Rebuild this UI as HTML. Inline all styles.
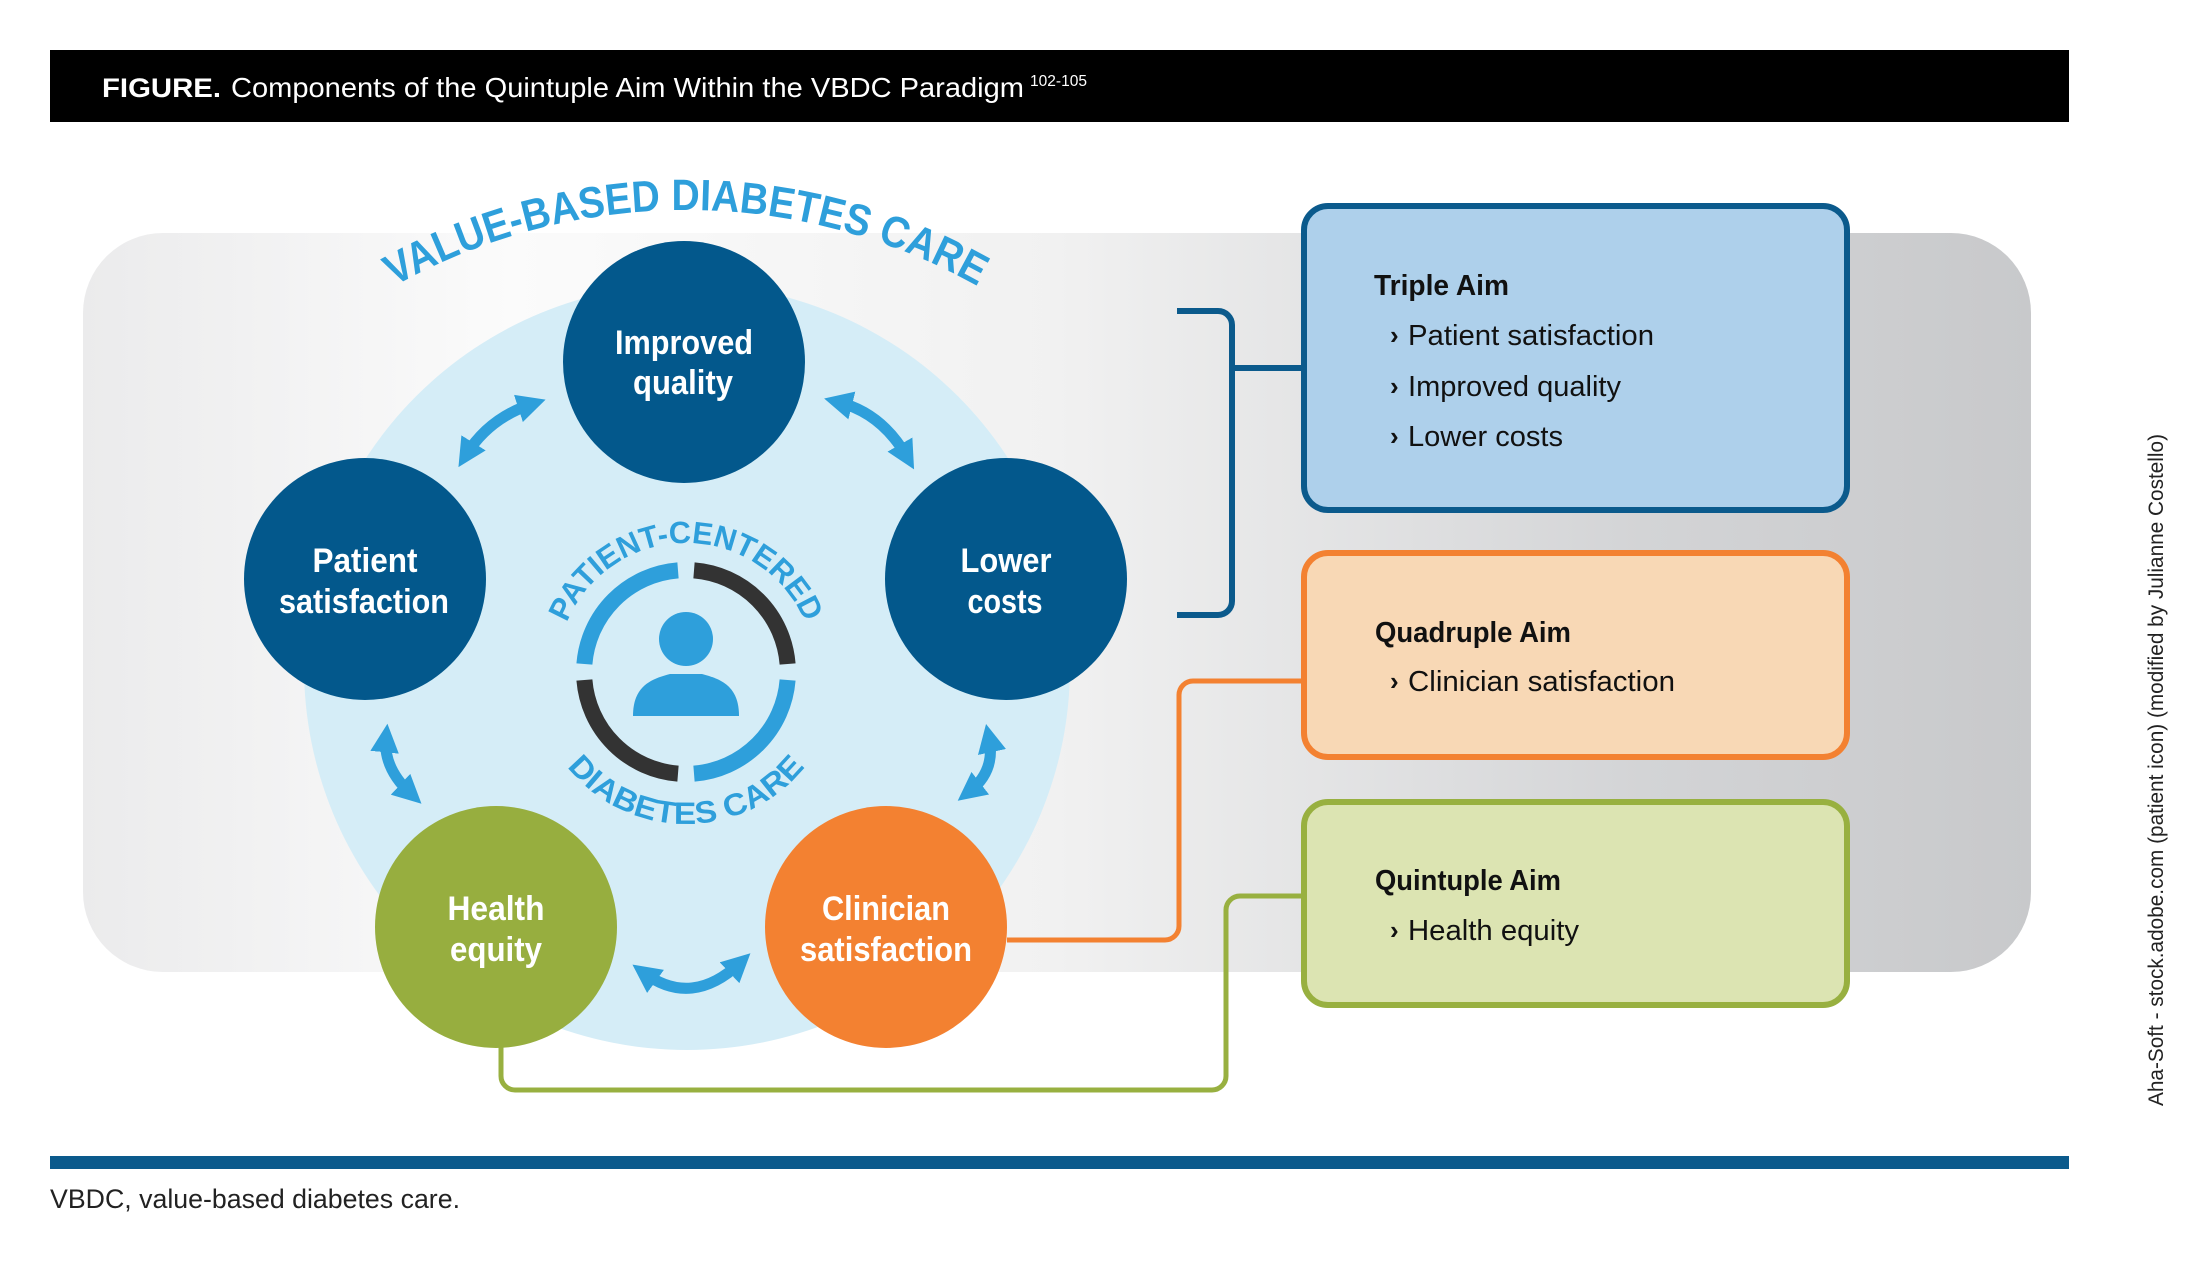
<!DOCTYPE html>
<html><head><meta charset="utf-8"><style>html,body{margin:0;padding:0;background:#fff}svg{display:block}text{font-family:"Liberation Sans",sans-serif}</style></head><body>
<svg width="2193" height="1277" viewBox="0 0 2193 1277" xmlns="http://www.w3.org/2000/svg">
<defs>
<linearGradient id="pg" x1="0" x2="1" y1="0" y2="0">
<stop offset="0" stop-color="#ebebec"/><stop offset="0.22" stop-color="#fbfbfb"/><stop offset="0.5" stop-color="#f1f1f1"/><stop offset="0.8" stop-color="#d3d4d6"/><stop offset="1" stop-color="#c8c9cb"/>
</linearGradient>
<marker id="ah" viewBox="0 0 10 10" refX="5" refY="5" markerWidth="2.6" markerHeight="2.6" orient="auto-start-reverse"><path d="M0,0 L10,5 L0,10 z" fill="#2e9fdb"/></marker>
</defs>
<rect x="50" y="50" width="2019" height="72" fill="#000"/>
<text x="102" y="97" font-size="27" font-weight="bold" fill="#fff" textLength="119" lengthAdjust="spacingAndGlyphs">FIGURE.</text>
<text x="231" y="97" font-size="28" fill="#fff" textLength="793" lengthAdjust="spacingAndGlyphs">Components of the Quintuple Aim Within the VBDC Paradigm</text>
<text x="1030" y="86" font-size="16" fill="#fff" textLength="57" lengthAdjust="spacingAndGlyphs">102-105</text>

<rect x="83" y="233" width="1948" height="739" rx="80" fill="url(#pg)"/>
<circle cx="687" cy="667" r="383" fill="#d5edf7"/>

<path d="M1177,311 H1218 a14,14 0 0 1 14,14 V601 a14,14 0 0 1 -14,14 H1177 M1232,368 H1303" fill="none" stroke="#0b5a8c" stroke-width="6"/>
<path d="M1007,940 H1165 a14,14 0 0 0 14,-14 V695 a14,14 0 0 1 14,-14 H1303" fill="none" stroke="#f38131" stroke-width="5"/>
<path d="M501,1040 V1076 a14,14 0 0 0 14,14 H1212 a14,14 0 0 0 14,-14 V910 a14,14 0 0 1 14,-14 H1303" fill="none" stroke="#98b040" stroke-width="5"/>

<g fill="none" stroke="#2e9fdb" stroke-width="11" marker-start="url(#ah)" marker-end="url(#ah)">
<path d="M466,455 Q489,418 532,404"/>
<path d="M838,402 Q882,413 907,457"/>
<path d="M386,738 Q383,768 411,794"/>
<path d="M989,738 Q996,771 969,792"/>
<path d="M644,973 Q692,1008 740,963"/>
</g>

<circle cx="684" cy="362" r="121" fill="#03588c"/>
<circle cx="365" cy="579" r="121" fill="#03588c"/>
<circle cx="1006" cy="579" r="121" fill="#03588c"/>
<circle cx="496" cy="927" r="121" fill="#97ae3f"/>
<circle cx="886" cy="927" r="121" fill="#f38131"/>
<g font-size="34" font-weight="bold" fill="#fff" text-anchor="middle">
<text x="684" y="354" textLength="138" lengthAdjust="spacingAndGlyphs">Improved</text>
<text x="683" y="394" textLength="100" lengthAdjust="spacingAndGlyphs">quality</text>
<text x="365" y="572" textLength="105" lengthAdjust="spacingAndGlyphs">Patient</text>
<text x="364" y="613" textLength="170" lengthAdjust="spacingAndGlyphs">satisfaction</text>
<text x="1006" y="572" textLength="91" lengthAdjust="spacingAndGlyphs">Lower</text>
<text x="1005" y="613" textLength="75" lengthAdjust="spacingAndGlyphs">costs</text>
<text x="496" y="920" textLength="97" lengthAdjust="spacingAndGlyphs">Health</text>
<text x="496" y="961" textLength="92" lengthAdjust="spacingAndGlyphs">equity</text>
<text x="886" y="920" textLength="128" lengthAdjust="spacingAndGlyphs">Clinician</text>
<text x="886" y="961" textLength="172" lengthAdjust="spacingAndGlyphs">satisfaction</text>
</g>

<g transform="translate(686,806)">
<path id="outerArc" d="M-596,0 A596,596 0 0 1 596,0" fill="none"/>
<text font-size="44" font-weight="bold" fill="#2e9fdb"><textPath href="#outerArc" startOffset="50%" text-anchor="middle" textLength="610" lengthAdjust="spacingAndGlyphs">VALUE-BASED DIABETES CARE</textPath></text>
</g>

<g transform="translate(686,672)">
<g fill="none" stroke-width="16">
<path d="M-101.6,-8 A102,102 0 0 1 -8,-101.6" stroke="#2e9fdb"/>
<path d="M8,-101.6 A102,102 0 0 1 101.6,-8" stroke="#333"/>
<path d="M101.6,8 A102,102 0 0 1 8,101.6" stroke="#2e9fdb"/>
<path d="M-8,101.6 A102,102 0 0 1 -101.6,8" stroke="#333"/>
</g>
<circle cx="0" cy="-33" r="27" fill="#2e9fdb"/>
<path d="M-53,44 C-53,14 -35,7 -16,2 L16,2 C35,7 53,14 53,44 Z" fill="#2e9fdb"/>
<path id="topArc" d="M-129,0 A129,129 0 0 1 129,0" fill="none"/>
<path id="botArc" d="M-152,0 A152,152 0 0 0 152,0" fill="none"/>
<text font-size="31" font-weight="bold" fill="#2e9fdb"><textPath href="#topArc" startOffset="50%" text-anchor="middle" textLength="304" lengthAdjust="spacingAndGlyphs">PATIENT-CENTERED</textPath></text>
<text font-size="31" font-weight="bold" fill="#2e9fdb"><textPath href="#botArc" startOffset="50%" text-anchor="middle" textLength="273" lengthAdjust="spacingAndGlyphs">DIABETES CARE</textPath></text>
</g>

<rect x="1304" y="206" width="543" height="304" rx="24" fill="#aed0eb" stroke="#0b5a8c" stroke-width="6"/>
<rect x="1304" y="553" width="543" height="204" rx="24" fill="#f8d8b5" stroke="#f38131" stroke-width="6"/>
<rect x="1304" y="802" width="543" height="203" rx="24" fill="#dce4b2" stroke="#98b040" stroke-width="6"/>
<g font-size="29" fill="#111">
<text x="1374" y="295" font-weight="bold" textLength="135" lengthAdjust="spacingAndGlyphs">Triple Aim</text>
<text x="1390" y="344" font-weight="bold" font-size="26">›</text><text x="1408" y="345" textLength="246" lengthAdjust="spacingAndGlyphs">Patient satisfaction</text>
<text x="1390" y="395" font-weight="bold" font-size="26">›</text><text x="1408" y="396" textLength="213" lengthAdjust="spacingAndGlyphs">Improved quality</text>
<text x="1390" y="445" font-weight="bold" font-size="26">›</text><text x="1408" y="446" textLength="155" lengthAdjust="spacingAndGlyphs">Lower costs</text>
<text x="1375" y="642" font-weight="bold" textLength="196" lengthAdjust="spacingAndGlyphs">Quadruple Aim</text>
<text x="1390" y="690" font-weight="bold" font-size="26">›</text><text x="1408" y="691" textLength="267" lengthAdjust="spacingAndGlyphs">Clinician satisfaction</text>
<text x="1375" y="890" font-weight="bold" textLength="186" lengthAdjust="spacingAndGlyphs">Quintuple Aim</text>
<text x="1390" y="939" font-weight="bold" font-size="26">›</text><text x="1408" y="940" textLength="171" lengthAdjust="spacingAndGlyphs">Health equity</text>
</g>

<rect x="50" y="1156" width="2019" height="13" fill="#0b5a8c"/>
<text x="50" y="1208" font-size="27" fill="#222" textLength="410" lengthAdjust="spacingAndGlyphs">VBDC, value-based diabetes care.</text>
<text transform="translate(2163,1106) rotate(-90)" font-size="21" fill="#222" textLength="672" lengthAdjust="spacingAndGlyphs">Aha-Soft - stock.adobe.com (patient icon) (modified by Julianne Costello)</text>
</svg>
</body></html>
